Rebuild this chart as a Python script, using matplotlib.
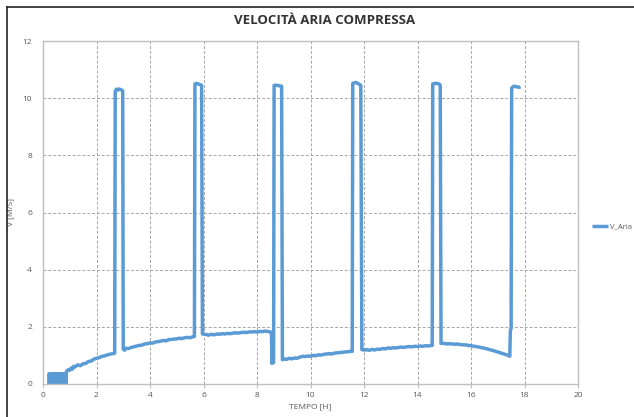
import matplotlib
matplotlib.use("Agg")
import matplotlib.pyplot as plt
from matplotlib.lines import Line2D

# --- data: compressed-air velocity over time ---
# initial noisy start-up block (values toggling between 0 and ~0.35)
t_start = [0.22, 0.22, 0.25, 0.25, 0.28, 0.28, 0.31, 0.31, 0.34, 0.34, 0.37,
           0.37, 0.40, 0.40, 0.43, 0.43, 0.46, 0.46, 0.49, 0.49, 0.52, 0.52,
           0.55, 0.55, 0.58, 0.58, 0.61, 0.61, 0.64, 0.64, 0.67, 0.67, 0.70,
           0.70, 0.73, 0.73, 0.76, 0.76, 0.79, 0.79, 0.82, 0.82, 0.85, 0.85]
v_start = [0.00, 0.35, 0.36, 0.00, 0.00, 0.34, 0.35, 0.00, 0.00, 0.36, 0.35,
           0.00, 0.00, 0.34, 0.36, 0.00, 0.00, 0.35, 0.34, 0.00, 0.00, 0.36,
           0.35, 0.00, 0.00, 0.34, 0.36, 0.00, 0.00, 0.35, 0.35, 0.00, 0.00,
           0.36, 0.34, 0.00, 0.00, 0.35, 0.36, 0.00, 0.00, 0.35, 0.36, 0.00]

t_main = [
    0.88, 0.95, 1.00, 1.05, 1.10, 1.15, 1.20, 1.30, 1.40, 1.50, 1.60, 1.70,
    1.80, 1.90, 2.00, 2.10, 2.20, 2.30, 2.40, 2.50, 2.60, 2.68,
    2.70, 2.75, 2.80, 2.85, 2.95, 2.98,
    3.00, 3.05, 3.10, 3.20, 3.30, 3.40, 3.50, 3.60, 3.70, 3.80, 3.90, 4.00,
    4.10, 4.20, 4.30, 4.40, 4.50, 4.60, 4.70, 4.80, 4.90, 5.00, 5.10, 5.20,
    5.30, 5.40, 5.50, 5.60, 5.66,
    5.68, 5.75, 5.85, 5.93,
    5.96, 6.10, 6.20, 6.30, 6.40, 6.50, 6.60, 6.70, 6.80, 6.90, 7.00, 7.10,
    7.20, 7.30, 7.40, 7.50, 7.60, 7.70, 7.80, 7.90, 8.00, 8.10, 8.20, 8.30,
    8.40, 8.50, 8.54,
    8.56, 8.58, 8.60, 8.62,
    8.64, 8.75, 8.85, 8.92,
    8.95, 9.00, 9.10, 9.20, 9.30, 9.40, 9.50, 9.60, 9.70, 9.80, 9.90, 10.00,
    10.10, 10.20, 10.30, 10.40, 10.50, 10.60, 10.70, 10.80, 10.90, 11.00,
    11.10, 11.20, 11.30, 11.40, 11.50, 11.56,
    11.58, 11.70, 11.80, 11.88,
    11.92, 12.00, 12.10, 12.20, 12.30, 12.40, 12.50, 12.60, 12.70, 12.80,
    12.90, 13.00, 13.10, 13.20, 13.30, 13.40, 13.50, 13.60, 13.70, 13.80,
    13.90, 14.00, 14.10, 14.20, 14.30, 14.40, 14.50, 14.55,
    14.57, 14.70, 14.80, 14.85,
    14.88, 15.00, 15.10, 15.20, 15.30, 15.40, 15.50, 15.60, 15.70, 15.80,
    15.90, 16.00, 16.10, 16.20, 16.30, 16.40, 16.50, 16.60, 16.70, 16.80,
    16.90, 17.00, 17.10, 17.20, 17.30, 17.40, 17.45,
    17.47, 17.50,
    17.52, 17.60, 17.70, 17.80, 17.85,
]
v_main = [
    0.45, 0.50, 0.48, 0.56, 0.52, 0.62, 0.60, 0.67, 0.64, 0.71, 0.72, 0.79,
    0.80, 0.87, 0.90, 0.92, 0.97, 0.98, 1.02, 1.04, 1.06, 1.08,
    10.25, 10.32, 10.28, 10.32, 10.28, 10.25,
    1.22, 1.18, 1.25, 1.24, 1.28, 1.30, 1.33, 1.35, 1.36, 1.40, 1.41, 1.44,
    1.43, 1.47, 1.48, 1.50, 1.52, 1.51, 1.55, 1.56, 1.57, 1.58, 1.60, 1.59,
    1.62, 1.63, 1.62, 1.65, 1.66,
    10.50, 10.52, 10.48, 10.45,
    1.75, 1.73, 1.71, 1.74, 1.72, 1.75, 1.74, 1.76, 1.75, 1.77, 1.76, 1.78,
    1.79, 1.78, 1.80, 1.81, 1.80, 1.82, 1.82, 1.83, 1.82, 1.84, 1.83, 1.85,
    1.84, 1.82, 1.80,
    0.72, 1.60, 0.78, 0.75,
    10.45, 10.45, 10.43, 10.42,
    0.85, 0.88, 0.86, 0.90, 0.88, 0.91, 0.90, 0.94, 0.97, 0.96, 0.98, 0.97,
    1.00, 0.99, 1.02, 1.01, 1.04, 1.05, 1.06, 1.05, 1.08, 1.09,
    1.10, 1.11, 1.12, 1.13, 1.14, 1.14,
    10.52, 10.55, 10.50, 10.45,
    1.20, 1.19, 1.20, 1.18, 1.21, 1.19, 1.22, 1.21, 1.24, 1.23,
    1.26, 1.25, 1.27, 1.26, 1.28, 1.29, 1.28, 1.30, 1.31, 1.30,
    1.32, 1.31, 1.33, 1.32, 1.34, 1.33, 1.35, 1.35,
    10.50, 10.52, 10.50, 10.45,
    1.42, 1.42, 1.40, 1.41, 1.40, 1.39, 1.40, 1.38, 1.37, 1.37,
    1.35, 1.34, 1.32, 1.31, 1.29, 1.27, 1.25, 1.23, 1.20, 1.18,
    1.15, 1.12, 1.09, 1.06, 1.03, 1.00, 0.97,
    1.85, 1.95,
    10.35, 10.42, 10.40, 10.38, 10.40,
]

tempo = t_start + t_main
velocita = v_start + v_main

x_ticks = [0, 2, 4, 6, 8, 10, 12, 14, 16, 18, 20]
y_ticks = [0, 2, 4, 6, 8, 10, 12]

LINE_BLUE = "#5B9BD5"
GRID_GRAY = "#A6A6A6"
SPINE_GRAY = "#BFBFBF"
TEXT_GRAY = "#595959"

plt.rcParams["font.family"] = ["Open Sans", "DejaVu Sans"]
plt.rcParams["path.simplify"] = False

W, H = 634, 417
fig = plt.figure(figsize=(W / 100, H / 100), dpi=100)
ax = fig.add_axes([43 / W, 33 / H, 535 / W, 343 / H])

ax.plot(tempo, velocita, color=LINE_BLUE, lw=2.5, solid_joinstyle="round",
        solid_capstyle="butt", label="V_Aria")

ax.set_xlim(0, 20)
ax.set_ylim(0, 12)
ax.set_xticks(x_ticks)
ax.set_yticks(y_ticks)
ax.grid(True, color=GRID_GRAY, linestyle=(0, (3, 2)), linewidth=0.7)
ax.set_axisbelow(True)
for s in ax.spines.values():
    s.set_color(SPINE_GRAY)
    s.set_linewidth(1.0)
ax.tick_params(axis="x", length=3, width=0.8, color=SPINE_GRAY,
               labelsize=6, labelcolor=TEXT_GRAY, pad=3)
ax.tick_params(axis="y", length=0, labelsize=6, labelcolor=TEXT_GRAY, pad=8)

ax.set_xlabel("TEMPO [H]", fontsize=6, color=TEXT_GRAY, labelpad=3)
ax.set_ylabel("V [M/S]", fontsize=6, color=TEXT_GRAY, labelpad=6)

fig.text(325 / W, 1 - 20 / H, "VELOCITÀ ARIA COMPRESSA", ha="center",
         va="center", fontsize=9.5, fontweight="bold", color="#333333")

ax.legend(loc="center left", bbox_to_anchor=(592 / W, 1 - 227 / H),
          bbox_transform=fig.transFigure, frameon=False, fontsize=5.5,
          handlelength=2.1, handletextpad=0.2, borderpad=0, borderaxespad=0,
          labelcolor=TEXT_GRAY)

# outer frame (left and top edges)
fig.add_artist(Line2D([7 / W, 7 / W], [0, 1 - 7 / H], transform=fig.transFigure,
                      color="#222222", lw=1.2))
fig.add_artist(Line2D([7 / W, 1], [1 - 7 / H, 1 - 7 / H],
                      transform=fig.transFigure, color="#222222", lw=1.2))

fig.savefig("out.png", dpi=100)
